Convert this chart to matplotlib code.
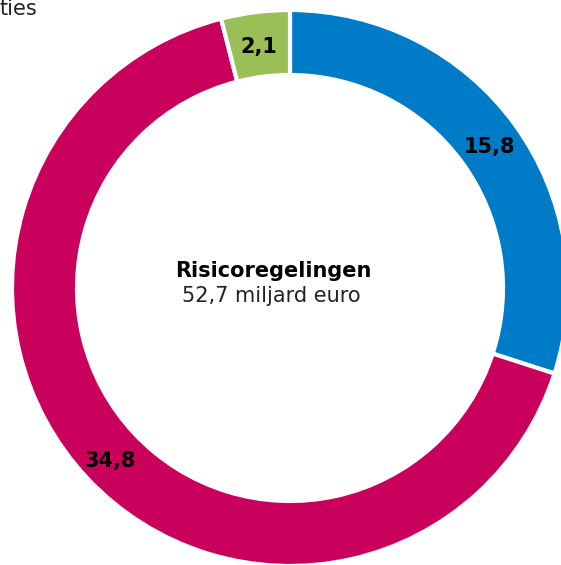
import matplotlib
matplotlib.use("Agg")
import matplotlib.pyplot as plt
import numpy as np

plt.rcParams["font.family"] = ["DejaVu Sans"]

categories = ["Garanties", "Leningen", "Overig"]
values = [15.8, 34.8, 2.1]
value_labels = ["15,8", "34,8", "2,1"]
colors = ["#007BC7", "#CA005D", "#9BBF57"]
center_title = "Risicoregelingen"
center_sub = "52,7 miljard euro"
corner_text = "ties"

W, H = 561, 565
fig = plt.figure(figsize=(W / 100, H / 100), dpi=100)
ax = fig.add_axes([0, 0, 1, 1])

cx, cy = 290, H - 288
R = 278
ring = 65
wedges, _ = ax.pie(values, colors=colors, startangle=90, counterclock=False,
                   radius=R, center=(cx, cy), frame=True,
                   wedgeprops=dict(width=ring, edgecolor="white", linewidth=3))
ax.set_xlim(0, W)
ax.set_ylim(0, H)
ax.axis("off")

rl = R - ring / 2 + 1
for w, lab in zip(wedges, value_labels):
    ang = np.deg2rad((w.theta1 + w.theta2) / 2)
    ax.text(cx + rl * np.cos(ang), cy + rl * np.sin(ang) - 4, lab,
            ha="center", va="center", fontsize=15, fontweight="bold",
            color="black")

ax.text(cx - 17, H - 271, center_title, ha="center", va="center",
        fontsize=15, fontweight="bold", color="black")
ax.text(cx - 19, H - 296, center_sub, ha="center", va="center",
        fontsize=15, color="#222222")

ax.text(0, H - 15, corner_text, ha="left", va="baseline", fontsize=15,
        color="#222222")

fig.savefig("out.png", dpi=100)
